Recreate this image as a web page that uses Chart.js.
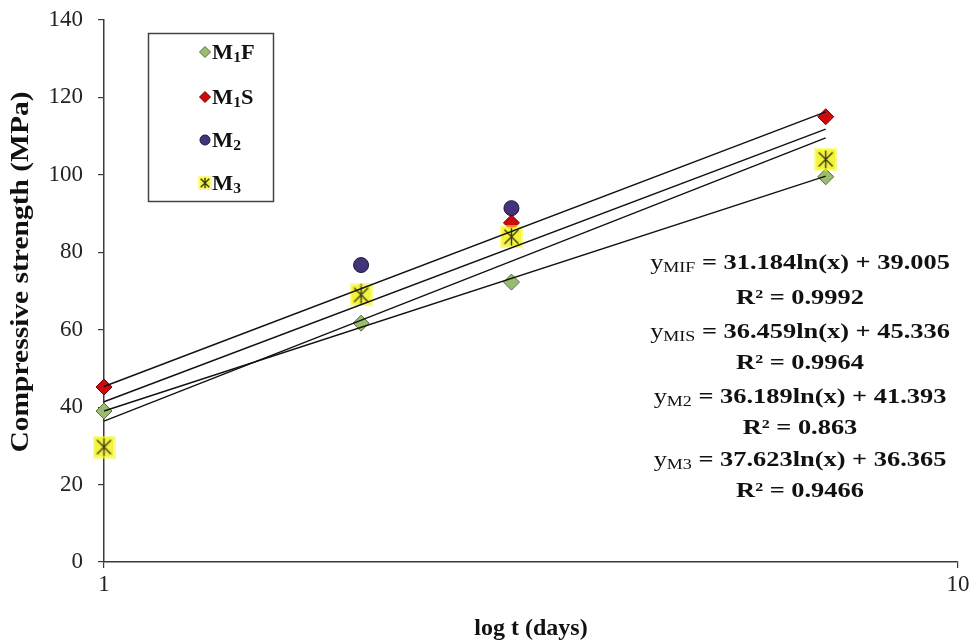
<!DOCTYPE html>
<html>
<head>
<meta charset="utf-8">
<script src="https://cdn.jsdelivr.net/npm/chart.js@4/dist/chart.umd.min.js"></script>
<style>
  html, body { margin: 0; padding: 0; background: #fff; }
  #wrap { width: 974px; height: 643px; }
</style>
</head>
<body>
<div id="wrap"><canvas id="c" width="974" height="643"></canvas></div>
<script>
// Curing age (days) and compressive strength (MPa) per mix
const ageDays = [1, 2, 3, 7];
const seriesNames = ['M₁F', 'M₁S', 'M₂', 'M₃'];
const m1fStrength = [39.0, 61.7, 72.3, 99.5];
const m1sStrength = [45.2, 69.8, 87.6, 115.0];
const m2Strength  = [30.0, 76.7, 91.4, 103.8];
const m3Strength  = [29.7, 69.0, 84.0, 104.0];

// Logarithmic fits y = a·ln(x) + b
const fitSubscripts = ['MIF', 'MIS', 'M2', 'M3'];
const fitSlopes = [31.184, 36.459, 36.189, 37.623];
const fitIntercepts = [39.005, 45.336, 41.393, 36.365];
const fitR2 = ['0.9992', '0.9964', '0.863', '0.9466'];
const fitRange = [1, 7];

const yTickValues = [0, 20, 40, 60, 80, 100, 120, 140];
const xTickValues = [1, 10];
const xTitle = 'log t (days)';
const yTitle = 'Compressive strength (MPa)';

const SERIF = '"Liberation Serif", "Times New Roman", serif';
const AXIS = '#3a3a3a';

// Asterisk on a yellow square, used as the M3 marker
function starMarker(size) {
  const c = document.createElement('canvas');
  c.width = size; c.height = size;
  const g = c.getContext('2d');
  g.fillStyle = 'rgba(245,245,60,0.55)';
  g.fillRect(0, 0, size, size);
  g.fillStyle = '#f3f33a';
  g.fillRect(2, 2, size - 4, size - 4);
  const m = size / 2, r = size * 0.38;
  g.strokeStyle = '#3c3c1c';
  g.lineWidth = 1.4;
  g.beginPath();
  g.moveTo(m, m - r); g.lineTo(m, m + r);
  g.moveTo(m - r * 0.8, m - r * 0.8); g.lineTo(m + r * 0.8, m + r * 0.8);
  g.moveTo(m + r * 0.8, m - r * 0.8); g.lineTo(m - r * 0.8, m + r * 0.8);
  g.stroke();
  return c;
}

const markerStyles = [
  { pointStyle: 'rectRot', radius: 8, fill: '#9bbb70', stroke: '#55703a' },
  { pointStyle: 'rectRot', radius: 8, fill: '#cc0a0a', stroke: '#7a0000' },
  { pointStyle: 'circle',  radius: 7.5, fill: '#45337a', stroke: '#20163e' },
  { pointStyle: starMarker(23), radius: 11.5, fill: '#f3f33a', stroke: '#3c3c1c' }
];
const legendMarkers = [
  { pointStyle: 'rectRot', radius: 5.5 },
  { pointStyle: 'rectRot', radius: 5.5 },
  { pointStyle: 'circle',  radius: 5 },
  { pointStyle: starMarker(14), radius: 7 }
];

const strengthSeries = [m1fStrength, m1sStrength, m2Strength, m3Strength];

const pointDatasets = strengthSeries.map((vals, i) => ({
  label: seriesNames[i],
  data: ageDays.map((d, k) => ({ x: d, y: vals[k] })),
  showLine: false,
  clip: false,
  pointStyle: markerStyles[i].pointStyle,
  pointRadius: markerStyles[i].radius,
  pointHoverRadius: markerStyles[i].radius,
  pointBackgroundColor: markerStyles[i].fill,
  pointBorderColor: markerStyles[i].stroke,
  pointBorderWidth: 1,
  order: 5 - i
}));

// Fit lines: straight on a log axis, so the two end points are enough
const fitDatasets = fitSlopes.map((a, i) => ({
  label: 'fit ' + seriesNames[i],
  data: fitRange.map(x => ({ x, y: a * Math.log(x) + fitIntercepts[i] })),
  showLine: true,
  clip: false,
  borderColor: '#111',
  borderWidth: 1.4,
  pointRadius: 0,
  pointHoverRadius: 0,
  fill: false,
  order: 0
}));

function splitSubscripts(label, bold) {
  const subs = '₀₁₂₃₄₅₆₇₈₉';
  const parts = [];
  for (const ch of label) {
    const i = subs.indexOf(ch);
    const part = i >= 0 ? { t: String(i), sub: true, bold } : { t: ch, sub: false, bold };
    const last = parts[parts.length - 1];
    if (last && last.sub === part.sub) last.t += part.t; else parts.push(part);
  }
  return parts;
}
function partFont(p, size) {
  const s = p.sub ? Math.round(size * (p.scale || 0.7)) : size;
  return (p.bold ? 'bold ' : '') + s + 'px ' + SERIF;
}
function partsWidth(ctx, parts, size) {
  let w = 0;
  for (const p of parts) { ctx.font = partFont(p, size); w += ctx.measureText(p.t).width; }
  return w;
}
function drawParts(ctx, parts, x, baseline, size) {
  let cx = x;
  for (const p of parts) {
    ctx.font = partFont(p, size);
    ctx.fillText(p.t, cx, baseline + (p.sub ? size * (p.drop || 0.15) : 0));
    cx += ctx.measureText(p.t).width;
  }
}

// Vertical axis title, drawn a little above the axis middle
const yAxisTitle = {
  id: 'yAxisTitle',
  afterDraw(chart) {
    const ctx = chart.ctx;
    ctx.save();
    ctx.translate(22, 272);
    ctx.rotate(-Math.PI / 2);
    ctx.scale(1.18, 1);
    ctx.font = 'bold 25px ' + SERIF;
    ctx.fillStyle = '#111';
    ctx.textAlign = 'center';
    ctx.textBaseline = 'middle';
    ctx.fillText(yTitle, 0, 0);
    ctx.restore();
  }
};

const legendBox = {
  id: 'legendBox',
  afterDraw(chart) {
    const ctx = chart.ctx;
    ctx.save();
    ctx.fillStyle = '#fff';
    ctx.fillRect(148, 33, 125, 168);
    ctx.strokeStyle = '#444';
    ctx.lineWidth = 1.5;
    ctx.strokeRect(148.5, 33.5, 125, 168);
    const rows = [52, 97, 140, 183];
    seriesNames.forEach((name, i) => {
      const y = rows[i];
      ctx.fillStyle = markerStyles[i].fill;
      ctx.strokeStyle = markerStyles[i].stroke;
      ctx.lineWidth = 1;
      Chart.helpers.drawPoint(ctx, { pointStyle: legendMarkers[i].pointStyle, radius: legendMarkers[i].radius, rotation: 0, borderWidth: 1 }, 205, y);
      ctx.fillStyle = '#111';
      ctx.textBaseline = 'alphabetic';
      ctx.textAlign = 'left';
      const parts = splitSubscripts(name, true);
      ctx.save();
      ctx.translate(212, 0);
      ctx.scale(1.12, 1);
      drawParts(ctx, parts, 0, y + 7, 20);
      ctx.restore();
    });
    ctx.restore();
  }
};

const fitLabels = {
  id: 'fitLabels',
  afterDraw(chart) {
    const ctx = chart.ctx;
    const cx = 800, stretch = 1.2, size = 22;
    const rows = [[262, 297], [331, 362], [396, 427], [459, 490]];
    ctx.save();
    ctx.fillStyle = '#111';
    ctx.textBaseline = 'alphabetic';
    ctx.textAlign = 'left';
    fitSlopes.forEach((a, i) => {
      const eq = [
        { t: 'y', bold: false, sub: false },
        { t: fitSubscripts[i], bold: false, sub: true, scale: 0.66, drop: 0.12 },
        { t: ' = ' + a.toFixed(3) + 'ln(x) + ' + fitIntercepts[i].toFixed(3), bold: true, sub: false }
      ];
      const r2 = [{ t: 'R² = ' + fitR2[i], bold: true, sub: false }];
      [[eq, rows[i][0]], [r2, rows[i][1]]].forEach(([parts, yc]) => {
        const w = partsWidth(ctx, parts, size);
        ctx.save();
        ctx.translate(cx, 0);
        ctx.scale(stretch, 1);
        drawParts(ctx, parts, -w / 2, yc + 7, size);
        ctx.restore();
      });
    });
    ctx.restore();
  }
};

new Chart(document.getElementById('c'), {
  type: 'scatter',
  data: { datasets: [...fitDatasets, ...pointDatasets] },
  options: {
    responsive: false,
    animation: false,
    devicePixelRatio: 1,
    layout: { padding: { top: 20, right: 16, bottom: 0, left: 0 } },
    plugins: { legend: { display: false }, tooltip: { enabled: false } },
    scales: {
      x: {
        type: 'logarithmic',
        min: 1, max: 10,
        afterBuildTicks: s => { s.ticks = xTickValues.map(v => ({ value: v })); },
        afterFit: s => { s.height = 81; },
        ticks: { color: '#222', font: { family: SERIF, size: 23 }, padding: 3, autoSkip: false, maxRotation: 0, callback: v => String(v) },
        grid: { drawOnChartArea: false, drawTicks: true, tickLength: 6, color: AXIS, lineWidth: 1.2 },
        border: { display: true, color: AXIS, width: 1.5 },
        title: { display: true, text: xTitle, color: '#111', font: { family: SERIF, size: 24, weight: 'bold' }, padding: { top: 0, bottom: 0 } }
      },
      y: {
        min: 0, max: 140,
        afterBuildTicks: s => { s.ticks = yTickValues.map(v => ({ value: v })); },
        afterFit: s => { s.width = 104; s.paddingTop = 0; s.paddingBottom = 0; },
        ticks: { color: '#222', font: { family: SERIF, size: 23 }, padding: 15 },
        grid: { drawOnChartArea: false, drawTicks: true, tickLength: 6, color: AXIS, lineWidth: 1.2 },
        border: { display: true, color: AXIS, width: 1.5 },
        title: { display: false }
      }
    }
  },
  plugins: [yAxisTitle, legendBox, fitLabels]
});
</script>
</body>
</html>
